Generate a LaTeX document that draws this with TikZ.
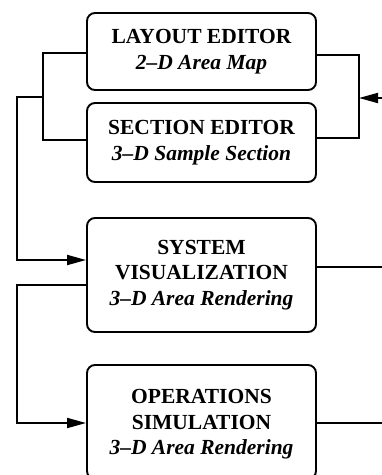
\documentclass[tikz,border=0pt]{standalone}
\usepackage{fontspec}
\setmainfont{Liberation Serif}
\usetikzlibrary{arrows.meta}
\begin{document}
\begin{tikzpicture}[x=1pt,y=-1pt,
  box/.style={draw,line width=1.9pt,rounded corners=8pt,minimum width=229pt,align=center,inner sep=0pt,
    font=\fontsize{21.5}{25.5}\selectfont\bfseries},
  wire/.style={line width=1.9pt},
  arr/.style={wire,-{Triangle[length=19pt,width=10pt]}}]
\useasboundingbox (0,0) rectangle (382,475);
\clip (0,0) rectangle (382,475);
\node[box,minimum height=77pt] (b1) at (201.5,51.5) {LAYOUT EDITOR\\\itshape 2--D Area Map};
\node[box,minimum height=79pt] (b2) at (201.5,142.5) {SECTION EDITOR\\\itshape 3--D Sample Section};
\node[box,minimum height=114pt] (b3) at (201.5,275) {SYSTEM\\VISUALIZATION\\\itshape 3--D Area Rendering};
\node[box,minimum height=114pt,text depth=0pt] (b4) at (201.5,422) {OPERATIONS\\SIMULATION\\\itshape 3--D Area Rendering};
% left loop between b1 and b2
\coordinate (l1) at (43,53);
\coordinate (l2) at (43,140);
\coordinate (lj) at (43,97);
\coordinate (lo) at (17,97);
\draw[wire] (b1.west |- l1) -- (l1) -- (l2) -- (b2.west |- l2);
\draw[arr] (lj) -- (lo) |- (b3.west |- 0,260);
% right loop between b1 and b2
\coordinate (r1) at (359,55);
\coordinate (r2) at (359,138);
\coordinate (rin) at (384,98);
\draw[wire] (b1.east |- r1) -- (r1) -- (r2) -- (b2.east |- r2);
\draw[arr] (rin) -- (r1 |- rin);
% b3 to b4
\coordinate (m1) at (17,285);
\draw[arr] (b3.west |- m1) -- (m1) |- (b4.west |- 0,423);
% outputs to the right
\coordinate (o3) at (384,267);
\coordinate (o4) at (384,423);
\draw[wire] (b3.east |- o3) -- (o3);
\draw[wire] (b4.east |- o4) -- (o4);
\end{tikzpicture}
\end{document}
